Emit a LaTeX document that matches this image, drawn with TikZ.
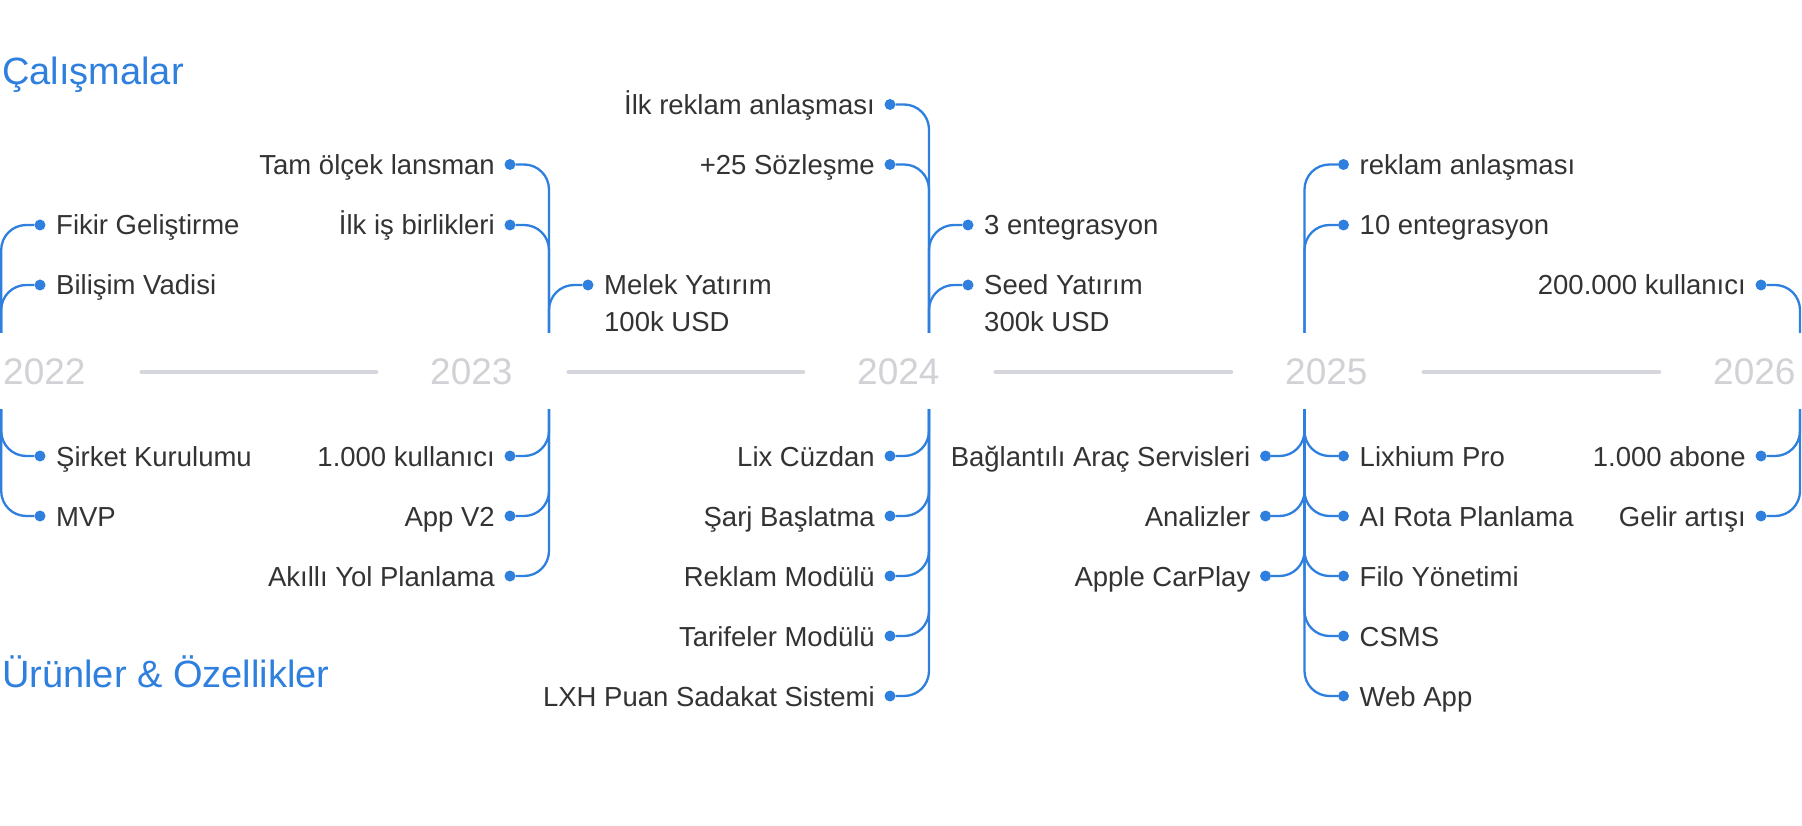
\documentclass[tikz,border=0pt]{standalone}
\usepackage{fontspec}
\setmainfont{Liberation Sans}
\usetikzlibrary{calc}
\definecolor{tlblue}{HTML}{2F80DE}
\definecolor{tltext}{HTML}{333333}
\definecolor{tlyear}{HTML}{D1D1D6}
\definecolor{tlaxis}{HTML}{D5D6DB}
\tikzset{
 evdot/.style={circle,fill=tlblue,inner sep=0pt,minimum size=11pt},
 conn/.style={draw=tlblue,line width=2.3pt,rounded corners=25pt},
 lbl/.style={inner sep=0pt,text=tltext,font=\fontsize{27.5pt}{33pt}\selectfont},
 yearlbl/.style={inner sep=0pt,text=tlyear,font=\fontsize{37pt}{44pt}\selectfont,anchor=base west},
 axisline/.style={draw=tlaxis,line width=4.5pt,line cap=round,shorten <=56pt,shorten >=54pt},
 sectitle/.style={inner sep=0pt,text=tlblue,font=\fontsize{38pt}{46pt}\selectfont,anchor=base west}
}
\newcommand\EvRight[4]{\node[evdot] (#1) at (#3) {};
 \node[lbl,anchor=base west] (#1t) at ($(#1)+(16,10)$) {#4};
 \draw[conn] (#2) |- (#1);}
\newcommand\EvLeft[4]{\node[evdot] (#1) at (#3) {};
 \node[lbl,anchor=base east] (#1t) at ($(#1)+(-15,10)$) {#4};
 \draw[conn] (#2) |- (#1);}
\begin{document}
\begin{tikzpicture}[x=1pt,y=-1pt]
\fill[white] (0,0) rectangle (1802,826);
\useasboundingbox (0,0) rectangle (1802,826);

% titles
\node[sectitle] (h1) at (2,85) {Çalışmalar};
\node[sectitle] (h2) at (2,687) {Ürünler \& Özellikler};

% years and axis
\node[yearlbl] (y22) at (3,384.5) {2022};
\node[yearlbl] (y23) at (430,384.5) {2023};
\node[yearlbl] (y24) at (857,384.5) {2024};
\node[yearlbl] (y25) at (1285,384.5) {2025};
\node[yearlbl] (y26) at (1713,384.5) {2026};
\draw[axisline] (y22.east) -- (y23.west);
\draw[axisline] (y23.east) -- (y24.west);
\draw[axisline] (y24.east) -- (y25.west);
\draw[axisline] (y25.east) -- (y26.west);

% line ends
\coordinate (t22) at (1.2,333);  \coordinate (b22) at (1.2,409);
\coordinate (t23) at (549,333);  \coordinate (b23) at (549,409);
\coordinate (t24) at (929,333);  \coordinate (b24) at (929,409);
\coordinate (t25) at (1304.5,333); \coordinate (b25) at (1304.5,409);
\coordinate (t26) at (1800,333); \coordinate (b26) at (1800,409);

% 2022
\EvRight{a1}{t22}{40,225}{Fikir Geliştirme}
\EvRight{a2}{t22}{40,285}{Bilişim Vadisi}
\EvRight{a3}{b22}{40,456}{Şirket Kurulumu}
\EvRight{a4}{b22}{40,516}{MVP}

% 2023
\EvLeft{b1}{t23}{510,164.5}{Tam ölçek lansman}
\EvLeft{b2}{t23}{510,225}{İlk iş birlikleri}
\EvRight{b3}{t23}{588,285}{Melek Yatırım}
\node[lbl,anchor=base west] (b3u) at ($(b3t.base west)+(0,37)$) {100k USD};
\EvLeft{b4}{b23}{510,456}{1.000 kullanıcı}
\EvLeft{b5}{b23}{510,516}{App V2}
\EvLeft{b6}{b23}{510,576}{Akıllı Yol Planlama}

% 2024
\EvLeft{c1}{t24}{890,104.5}{İlk reklam anlaşması}
\EvLeft{c2}{t24}{890,164.5}{+25 Sözleşme}
\EvRight{c3}{t24}{968,225}{3 entegrasyon}
\EvRight{c4}{t24}{968,285}{Seed Yatırım}
\node[lbl,anchor=base west] (c4u) at ($(c4t.base west)+(0,37)$) {300k USD};
\EvLeft{c5}{b24}{890,456}{Lix Cüzdan}
\EvLeft{c6}{b24}{890,516}{Şarj Başlatma}
\EvLeft{c7}{b24}{890,576}{Reklam Modülü}
\EvLeft{c8}{b24}{890,636}{Tarifeler Modülü}
\EvLeft{c9}{b24}{890,696}{LXH Puan Sadakat Sistemi}

% 2025
\EvRight{d1}{t25}{1343.5,164.5}{reklam anlaşması}
\EvRight{d2}{t25}{1343.5,225}{10 entegrasyon}
\EvLeft{d3}{b25}{1265.5,456}{Bağlantılı Araç Servisleri}
\EvLeft{d4}{b25}{1265.5,516}{Analizler}
\EvLeft{d5}{b25}{1265.5,576}{Apple CarPlay}
\EvRight{d6}{b25}{1343.5,456}{Lixhium Pro}
\EvRight{d7}{b25}{1343.5,516}{AI Rota Planlama}
\EvRight{d8}{b25}{1343.5,576}{Filo Yönetimi}
\EvRight{d9}{b25}{1343.5,636}{CSMS}
\EvRight{d10}{b25}{1343.5,696}{Web App}

% 2026
\EvLeft{e1}{t26}{1761,285}{200.000 kullanıcı}
\EvLeft{e2}{b26}{1761,456}{1.000 abone}
\EvLeft{e3}{b26}{1761,516}{Gelir artışı}
\end{tikzpicture}
\end{document}
